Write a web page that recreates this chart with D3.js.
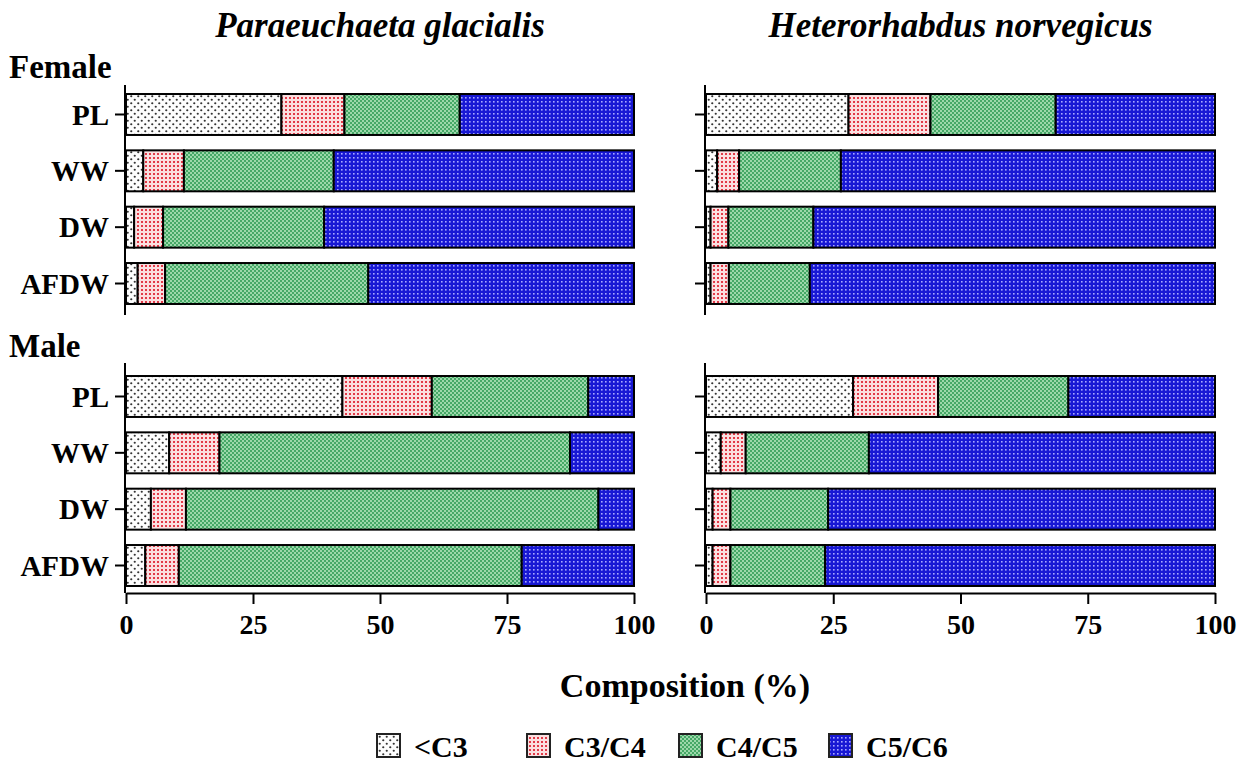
<!DOCTYPE html>
<html>
<head>
<meta charset="utf-8">
<script src="https://cdn.jsdelivr.net/npm/d3@7"></script>
<style>
  html, body { margin: 0; padding: 0; background: #fff; }
  svg { display: block; }
  text { font-family: "Liberation Serif", "Times New Roman", serif; font-weight: bold; fill: #000; }
</style>
</head>
<body>
<svg id="chart" width="1251" height="766"></svg>
<script>
// Developmental stage groups (stacked from left to right)
const stages = ["<C3", "C3/C4", "C4/C5", "C5/C6"];
// Measurement types (rows)
const measures = ["PL", "WW", "DW", "AFDW"];
const species = ["Paraeuchaeta glacialis", "Heterorhabdus norvegicus"];
const sexes = ["Female", "Male"];
const xTicks = [0, 25, 50, 75, 100];

// Composition (%) per stage, one row per measure
const femaleGlacialis = [
  [30.6, 12.4, 22.7, 34.3],
  [3.4, 8.0, 29.5, 59.1],
  [1.6, 5.7, 31.7, 61.0],
  [2.3, 5.4, 40.0, 52.3]
];
const femaleNorvegicus = [
  [28.0, 16.1, 24.6, 31.3],
  [2.2, 4.3, 20.0, 73.5],
  [0.9, 3.5, 16.7, 78.9],
  [0.9, 3.6, 15.9, 79.6]
];
const maleGlacialis = [
  [42.6, 17.6, 30.8, 9.0],
  [8.5, 9.9, 69.0, 12.6],
  [4.9, 6.9, 81.2, 7.0],
  [3.8, 6.6, 67.5, 22.1]
];
const maleNorvegicus = [
  [28.9, 16.7, 25.6, 28.8],
  [2.9, 4.9, 24.2, 68.0],
  [1.3, 3.5, 19.2, 76.0],
  [1.3, 3.5, 18.6, 76.6]
];

const svg = d3.select("#chart");
const defs = svg.append("defs");

// Fill patterns for each stage
function makePatterns() {
  // sparse grey dots on white
  let p = defs.append("pattern").attr("id", "pat0").attr("patternUnits", "userSpaceOnUse")
    .attr("width", 7).attr("height", 7);
  p.append("rect").attr("width", 7).attr("height", 7).attr("fill", "#fdfdfd");
  p.append("circle").attr("cx", 1.75).attr("cy", 1.75).attr("r", 1.1).attr("fill", "#333");
  p.append("circle").attr("cx", 5.25).attr("cy", 5.25).attr("r", 1.1).attr("fill", "#333");

  // dense red dots
  p = defs.append("pattern").attr("id", "pat1").attr("patternUnits", "userSpaceOnUse")
    .attr("width", 4).attr("height", 4);
  p.append("rect").attr("width", 4).attr("height", 4).attr("fill", "#fbdfe0");
  p.append("rect").attr("x", 1).attr("y", 1).attr("width", 2).attr("height", 2).attr("fill", "#e23a48");

  // fine green checkerboard
  p = defs.append("pattern").attr("id", "pat2").attr("patternUnits", "userSpaceOnUse")
    .attr("width", 4).attr("height", 4);
  p.append("rect").attr("width", 4).attr("height", 4).attr("fill", "#9cd8aa");
  p.append("rect").attr("width", 2).attr("height", 2).attr("fill", "#45a866");
  p.append("rect").attr("x", 2).attr("y", 2).attr("width", 2).attr("height", 2).attr("fill", "#45a866");

  // blue with light dots
  p = defs.append("pattern").attr("id", "pat3").attr("patternUnits", "userSpaceOnUse")
    .attr("width", 4).attr("height", 4);
  p.append("rect").attr("width", 4).attr("height", 4).attr("fill", "#1818d4");
  p.append("rect").attr("x", 1).attr("y", 1).attr("width", 1.6).attr("height", 1.6).attr("fill", "#a8a8ff");
}
makePatterns();

const xScales = [
  d3.scaleLinear().domain([0, 100]).range([126, 634]),
  d3.scaleLinear().domain([0, 100]).range([706, 1215])
];
const yScales = [
  d3.scaleBand().domain(measures).range([85, 313]).paddingInner(0.273).paddingOuter(0.16),
  d3.scaleBand().domain(measures).range([367, 595]).paddingInner(0.273).paddingOuter(0.16)
];
const axisSpan = [[85, 315], [363, 593]];

const panels = [
  { sex: 0, sp: 0, data: femaleGlacialis },
  { sex: 0, sp: 1, data: femaleNorvegicus },
  { sex: 1, sp: 0, data: maleGlacialis },
  { sex: 1, sp: 1, data: maleNorvegicus }
];

const stack = d3.stack().keys(d3.range(stages.length)).value((row, k) => row[k]);

panels.forEach(pn => {
  const x = xScales[pn.sp];
  const y = yScales[pn.sex];
  const g = svg.append("g");
  const rows = pn.data.map((r, i) => Object.assign(r.slice(), { measure: measures[i] }));
  const series = stack(rows);

  series.forEach((s, k) => {
    g.selectAll(null).data(s).enter().append("rect")
      .attr("x", d => x(d[0]))
      .attr("y", (d, i) => y(measures[i]))
      .attr("width", d => x(d[1]) - x(d[0]))
      .attr("height", y.bandwidth())
      .attr("fill", `url(#pat${k})`)
      .attr("stroke", "#000")
      .attr("stroke-width", 2);
  });

  // y axis
  const yAxis = d3.axisLeft(y).tickSize(10).tickSizeOuter(0).tickPadding(6)
    .tickFormat(pn.sp === 0 ? (d => d) : () => "");
  const ay = g.append("g").attr("transform", `translate(${x(0) - 1},0)`).call(yAxis);
  ay.select(".domain").remove();
  ay.selectAll(".tick line").attr("stroke", "#000").attr("stroke-width", 2);
  ay.selectAll(".tick text").style("font-size", "29px").attr("dy", "0.35em")
    .style("font-family", "'Liberation Serif', serif").style("font-weight", "bold");
  g.append("line")
    .attr("x1", x(0) - 1).attr("x2", x(0) - 1)
    .attr("y1", axisSpan[pn.sex][0]).attr("y2", axisSpan[pn.sex][1])
    .attr("stroke", "#000").attr("stroke-width", 2);

  // x axis only under the lower row
  if (pn.sex === 1) {
    const xAxis = d3.axisBottom(x).tickValues(xTicks).tickSize(11).tickSizeOuter(0).tickPadding(10);
    const ax = g.append("g").attr("transform", `translate(0,${axisSpan[1][1]})`).call(xAxis);
    ax.select(".domain").attr("stroke", "#000").attr("stroke-width", 2);
    ax.selectAll(".tick line").attr("stroke", "#000").attr("stroke-width", 2);
    ax.selectAll(".tick text").style("font-size", "28px")
      .style("font-family", "'Liberation Serif', serif").style("font-weight", "bold");
  }
});

// species titles
species.forEach((name, i) => {
  const x = xScales[i];
  svg.append("text")
    .attr("x", (x(0) + x(100)) / 2).attr("y", 37)
    .attr("text-anchor", "middle")
    .style("font-size", "35px").style("font-style", "italic")
    .text(name);
});

// sex labels
svg.append("text").attr("x", 9).attr("y", 78).style("font-size", "33px").text(sexes[0]);
svg.append("text").attr("x", 9).attr("y", 357).style("font-size", "33px").text(sexes[1]);

// x axis title
svg.append("text").attr("x", 685).attr("y", 697).attr("text-anchor", "middle")
  .style("font-size", "34px").text("Composition (%)");

// legend
const legendX = [377, 527, 679, 829];
const lg = svg.append("g");
stages.forEach((s, k) => {
  lg.append("rect")
    .attr("x", legendX[k]).attr("y", 734).attr("width", 23).attr("height", 23)
    .attr("fill", `url(#pat${k})`).attr("stroke", "#222").attr("stroke-width", 2);
  lg.append("text")
    .attr("x", legendX[k] + 37).attr("y", 757)
    .style("font-size", "30px").text(s);
});
</script>
</body>
</html>
